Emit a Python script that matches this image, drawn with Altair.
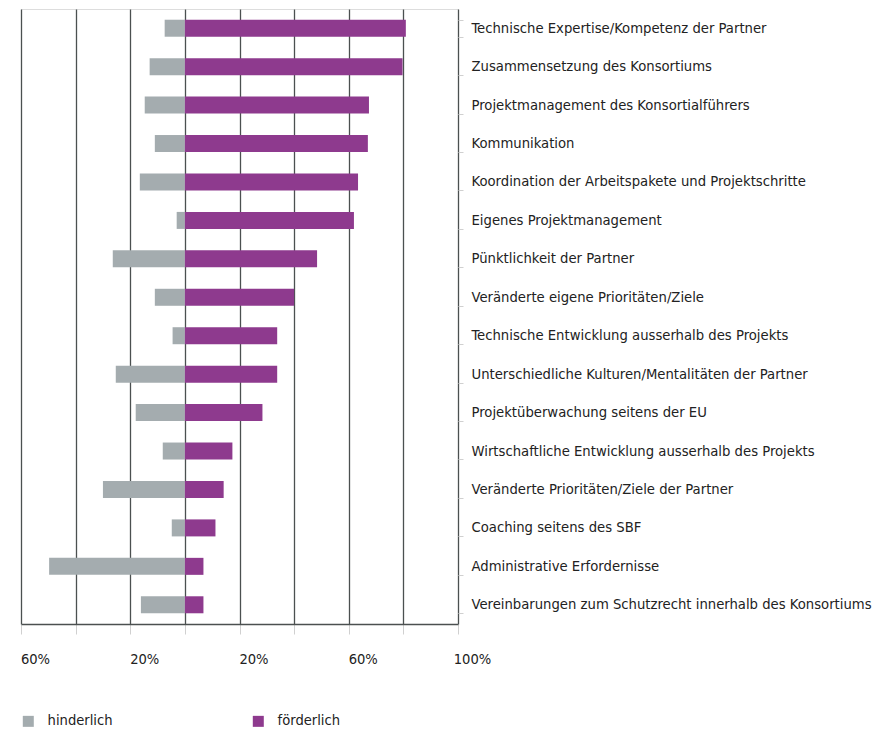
import altair as alt
import pandas as pd

categories = [
    "Technische Expertise/Kompetenz der Partner",
    "Zusammensetzung des Konsortiums",
    "Projektmanagement des Konsortialführers",
    "Kommunikation",
    "Koordination der Arbeitspakete und Projektschritte",
    "Eigenes Projektmanagement",
    "Pünktlichkeit der Partner",
    "Veränderte eigene Prioritäten/Ziele",
    "Technische Entwicklung ausserhalb des Projekts",
    "Unterschiedliche Kulturen/Mentalitäten der Partner",
    "Projektüberwachung seitens der EU",
    "Wirtschaftliche Entwicklung ausserhalb des Projekts",
    "Veränderte Prioritäten/Ziele der Partner",
    "Coaching seitens des SBF",
    "Administrative Erfordernisse",
    "Vereinbarungen zum Schutzrecht innerhalb des Konsortiums",
]
hinderlich = [-7.4, -12.9, -14.7, -11.0, -16.5, -3.0, -26.4, -11.0,
              -4.5, -25.3, -18.0, -8.1, -30.0, -4.8, -49.7, -16.1]
foerderlich = [80.9, 79.7, 67.4, 67.0, 63.4, 61.9, 48.4, 40.0,
               33.8, 33.8, 28.4, 17.4, 14.2, 11.2, 6.8, 6.8]
series = ["hinderlich", "förderlich"]
colors = ["#a4acaf", "#8e3a8e"]
x_ticks = [-60, -40, -20, 0, 20, 40, 60, 80, 100]

rows = []
for c, h, f in zip(categories, hinderlich, foerderlich):
    rows.append({"Kategorie": c, "Serie": series[0], "Wert": h})
    rows.append({"Kategorie": c, "Serie": series[1], "Wert": f})
df = pd.DataFrame(rows)

FONT = "'DejaVu Sans Condensed', sans-serif"
FS = 14.6
FS_Y = 14.7

chart = alt.Chart(df).mark_bar(size=17).encode(
    x=alt.X("Wert:Q", stack=None,
            scale=alt.Scale(domain=[-60, 100], nice=False, zero=False),
            axis=alt.Axis(values=x_ticks, title=None, grid=True,
                          gridColor="#4b5050", gridWidth=1.3, gridOpacity=1,
                          domainColor="#4b5050", domainWidth=1.3,
                          tickColor="#d0d0d0", tickSize=10, tickWidth=1,
                          labelExpr="abs(datum.value) % 40 == 20 ? abs(datum.value) + '%' : ''",
                          labelFlush=False,
                          labelPadding=17, labelOffset=14, labelFontSize=FS,
                          labelColor="#222222", labelFont=FONT)),
    y=alt.Y("Kategorie:N", sort=categories, title=None,
            scale=alt.Scale(paddingInner=0.56, paddingOuter=0.28),
            axis=alt.Axis(orient="right", domain=False, tickBand="extent",
                          tickColor="#d0d0d0", tickSize=5, tickWidth=1,
                          labelPadding=8, labelFontSize=FS_Y, labelColor="#222222",
                          labelFont=FONT, labelLimit=0)),
    color=alt.Color("Serie:N", sort=series,
                    scale=alt.Scale(domain=series, range=colors),
                    legend=alt.Legend(title=None, orient="none", direction="horizontal",
                                      legendX=0, legendY=705, symbolType="square",
                                      symbolSize=121, symbolStrokeWidth=0,
                                      labelFontSize=FS, labelFont=FONT, labelColor="#222222",
                                      labelOffset=12, columnPadding=138, padding=0)),
).properties(
    width=437, height=615,
    padding={"left": 12, "top": -7, "right": 0, "bottom": 0},
).configure_view(stroke=None).configure(background="white")

chart.save("out.html", embed_options={"renderer": "svg", "actions": False})
